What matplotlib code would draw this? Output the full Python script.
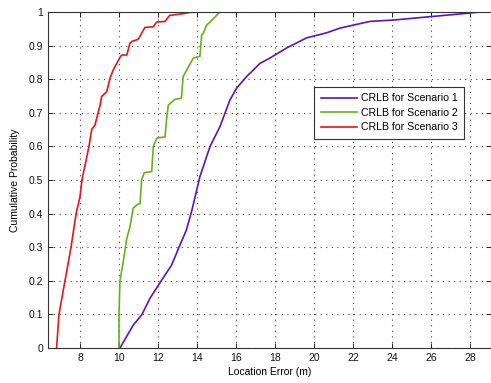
import matplotlib
matplotlib.use('Agg')
import matplotlib.pyplot as plt

matplotlib.rc('font', family='Liberation Sans', size=7.5)

# (location error in m, cumulative probability)
s1_x = [10.05, 10.73, 11.18, 11.59, 12.19, 12.7, 13.13, 13.45, 13.74, 14.15,
        14.67, 15.18, 15.69, 16.03, 16.55, 17.23, 17.74, 18.6, 19.62, 20.65,
        21.33, 22.87, 24.07, 25.95, 27.83, 28.51]
s1_y = [0, 0.068, 0.1, 0.148, 0.202, 0.247, 0.307, 0.35, 0.41, 0.51,
        0.6, 0.659, 0.738, 0.773, 0.808, 0.847, 0.863, 0.893, 0.923, 0.938,
        0.952, 0.972, 0.976, 0.986, 0.996, 1.0]

s2_x = [10.0, 10.0, 10.05, 10.2, 10.4, 10.56, 10.73, 10.9, 11.08, 11.16,
        11.3, 11.68, 11.76, 11.95, 12.36, 12.44, 12.53, 12.87, 13.2, 13.29,
        13.55, 13.81, 14.15, 14.24, 14.32, 14.5, 14.67, 14.84, 15.18]
s2_y = [0, 0.1, 0.2, 0.25, 0.326, 0.36, 0.416, 0.425, 0.43, 0.5,
        0.522, 0.525, 0.6, 0.625, 0.628, 0.68, 0.723, 0.74, 0.743, 0.808,
        0.835, 0.863, 0.868, 0.932, 0.936, 0.961, 0.97, 0.98, 1.0]

s3_x = [6.8, 6.92, 7.23, 7.54, 7.8, 8.0, 8.1, 8.46, 8.6, 8.77,
        9.03, 9.11, 9.37, 9.54, 9.7, 10.05, 10.14, 10.4, 10.56, 10.65,
        10.9, 11.0, 11.25, 11.33, 11.76, 11.93, 12.36, 12.6, 13.3, 13.64, 14.5]
s3_y = [0, 0.1, 0.2, 0.3, 0.4, 0.45, 0.5, 0.6, 0.65, 0.664,
        0.723, 0.748, 0.763, 0.803, 0.827, 0.865, 0.872, 0.872, 0.907, 0.912,
        0.917, 0.92, 0.946, 0.954, 0.956, 0.97, 0.972, 0.99, 0.995, 0.999, 1.0]

labels = ['CRLB for Scenario 1', 'CRLB for Scenario 2', 'CRLB for Scenario 3']
colors = ['#5A14C2', '#66B21E', '#E8141B']
xticks = list(range(8, 29, 2))
yticks = [i / 10 for i in range(11)]

fig = plt.figure(figsize=(4.91, 3.83), dpi=100)
ax = fig.add_axes([0.0978, 0.0914, 0.9022, 0.8773])

for xs, ys, lab, col in zip([s1_x, s2_x, s3_x], [s1_y, s2_y, s3_y], labels, colors):
    ax.plot(xs, ys, color=col, lw=1.2, label=lab)

ax.set_xlim(6.36, 29.08)
ax.set_ylim(0, 1)
ax.set_xticks(xticks)
ax.set_yticks(yticks)
ax.set_yticklabels(['0'] + ['%.1f' % v for v in yticks[1:-1]] + ['1'])
ax.grid(True, linestyle=(0, (1, 4)), color='#444444', lw=0.8)
ax.tick_params(which='both', direction='in', top=True, right=True, length=3.5,
               width=0.7, colors='#222222', labelcolor='#111111')
for sp in ax.spines.values():
    sp.set_color('#333333')
    sp.set_linewidth(0.8)

ax.set_xlabel('Location Error (m)', labelpad=3)
ax.set_ylabel('Cumulative Probability', labelpad=6)

leg = ax.legend(loc='upper right', bbox_to_anchor=(0.952, 0.792), fancybox=False,
                framealpha=1, edgecolor='#333333', handlelength=3.4,
                labelspacing=0.42, borderpad=0.6, handletextpad=0.45, fontsize=7.6)
leg.get_frame().set_linewidth(0.8)

plt.savefig('out.png', dpi=100)
